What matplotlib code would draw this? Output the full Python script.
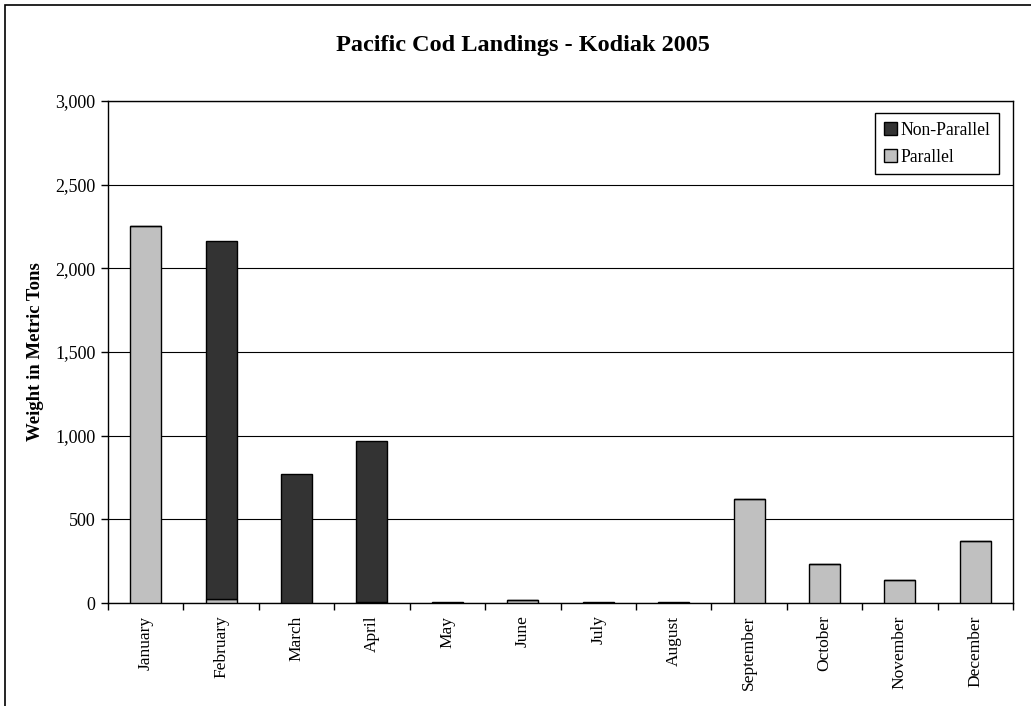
import matplotlib
matplotlib.use("Agg")
import matplotlib.pyplot as plt
from matplotlib.patches import Rectangle
from matplotlib.ticker import FuncFormatter, MultipleLocator
import numpy as np

months = ["January", "February", "March", "April", "May", "June", "July",
          "August", "September", "October", "November", "December"]
parallel = [2255, 25, 0, 3, 0, 20, 0, 0, 620, 235, 140, 370]
non_parallel = [0, 2140, 770, 967, 3, 0, 5, 3, 0, 0, 0, 0]

plt.rcParams['font.family'] = ['Liberation Serif', 'DejaVu Serif']

fig = plt.figure(figsize=(10.31, 7.06), dpi=100)
ax = fig.add_axes([108/1031, 1 - 603/706, (1013-108)/1031, (603-101)/706])

x = np.arange(len(months))
w = 0.41
ax.bar(x, parallel, w, color="#C0C0C0", edgecolor="black", linewidth=1, label="Parallel", zorder=3)
ax.bar(x, non_parallel, w, bottom=parallel, color="#333333", edgecolor="black", linewidth=1,
       label="Non-Parallel", zorder=3)

ax.set_xlim(-0.5, len(months) - 0.5)
ax.set_ylim(0, 3000)
ax.yaxis.set_major_locator(MultipleLocator(500))
ax.yaxis.set_major_formatter(FuncFormatter(lambda v, p: f"{int(v):,}"))
ax.grid(axis="y", color="black", linewidth=0.8, zorder=0)

ax.set_xticks(x)
ax.set_xticklabels(months, rotation=90, fontsize=12.5)
ax.set_xticks(np.arange(-0.5, len(months)), minor=True)
ax.tick_params(axis="x", which="major", length=0, pad=9)
ax.tick_params(axis="x", which="minor", length=5, width=1, direction="out")
ax.tick_params(axis="y", length=5, width=1, direction="out", labelsize=13, pad=4)
for s in ax.spines.values():
    s.set_linewidth(1)
    s.set_color("black")

ax.set_ylabel("Weight in Metric Tons", fontsize=13.5, fontweight="bold", labelpad=8)
fig.text(523/1031, 1 - 45/706, "Pacific Cod Landings - Kodiak 2005",
         ha="center", va="center", fontsize=17.5, fontweight="bold")

handles, labels = ax.get_legend_handles_labels()
leg = ax.legend(handles[::-1], labels[::-1], loc="upper right",
                bbox_to_anchor=((999-108)/905, (603-113)/502), fontsize=12.7,
                frameon=True, fancybox=False, edgecolor="black", framealpha=1,
                handlelength=0.75, handleheight=0.75, handletextpad=0.2,
                borderaxespad=0, labelspacing=0.55, borderpad=0.5)
leg.get_frame().set_linewidth(1)

fig.patches.append(Rectangle((5/1031, -0.1), 1.2, 1 - 5/706 + 0.1, transform=fig.transFigure,
                             fill=False, edgecolor="black", linewidth=1.2))

fig.savefig("out.png", dpi=100)
